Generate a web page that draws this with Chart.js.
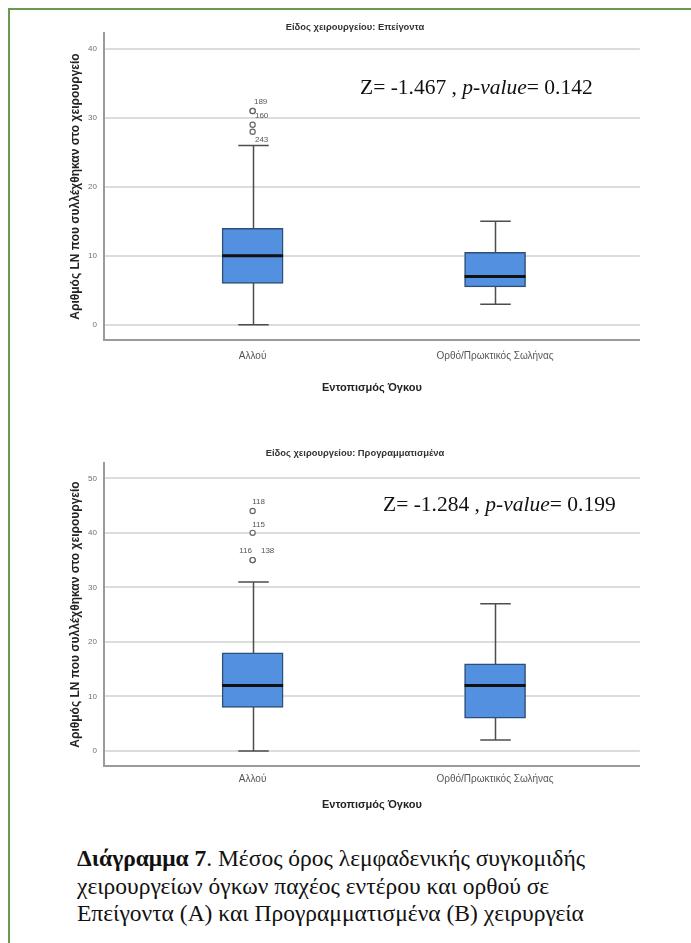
<!DOCTYPE html>
<html lang="el">
<head>
<meta charset="utf-8">
<title>Διάγραμμα 7</title>
<script src="https://cdn.jsdelivr.net/npm/chart.js@4.4.1/dist/chart.umd.min.js"></script>
<style>
    html, body { margin: 0; padding: 0; background: #fff; }
    body { width: 691px; height: 943px; overflow: hidden; position: relative; font-family: "Liberation Sans", Arial, sans-serif; }
    .frame { position: absolute; left: 8px; top: 8px; width: 740px; height: 980px; border: 2px solid #6b9a4c; box-sizing: border-box; }
    .chartBox { position: absolute; left: 65px; width: 580px; }
    #boxA { top: 10px; height: 400px; }
    #boxB { top: 436px; height: 380px; }
    .stat { position: absolute; font-family: "Liberation Serif", "Times New Roman", serif; font-size: 21.5px; color: #111; white-space: nowrap; }
    .caption { position: absolute; left: 77px; top: 845px; font-family: "Liberation Serif", "Times New Roman", serif; font-size: 23.5px; line-height: 27.5px; color: #111; white-space: nowrap; }
</style>
</head>
<body>
<div class="frame"></div>

<div class="chartBox" id="boxA"><canvas id="chartA"></canvas></div>
<div class="stat" style="left:360px; top:75px;">Z= -1.467 , <i>p-value</i>= 0.142</div>

<div class="chartBox" id="boxB"><canvas id="chartB"></canvas></div>
<div class="stat" style="left:383px; top:492px;">Z= -1.284 , <i>p-value</i>= 0.199</div>

<div class="caption">
    <b>Διάγραμμα 7</b>. Μέσος όρος λεμφαδενικής συγκομιδής<br>
    χειρουργείων όγκων παχέος εντέρου και ορθού σε<br>
    Επείγοντα (A) και Προγραμματισμένα (B) χειρυργεία
</div>

<script>
"use strict";

// --- dados ---
const categories = ["Αλλού", "Ορθό/Πρωκτικός Σωλήνας"];
const yTitle = "Αριθμός LN που συλλέχθηκαν στο χειρουργείο";
const xTitle = "Εντοπισμός Όγκου";

// A: Επείγοντα
const emergMin = [0, 3];
const emergQ1 = [6, 5.5];
const emergMedian = [10, 7];
const emergQ3 = [14, 10.5];
const emergMax = [26, 15];
const emergOutCat = [0, 0, 0, 0];
const emergOutValues = [31, 31, 29, 28];
const emergOutIds = ["189", "160", "", "243"];
const emergTicks = [0, 10, 20, 30, 40];

// B: Προγραμματισμένα
const electMin = [0, 2];
const electQ1 = [8, 6];
const electMedian = [12, 12];
const electQ3 = [18, 16];
const electMax = [31, 27];
const electOutCat = [0, 0, 0, 0];
const electOutValues = [44, 40, 35, 35];
const electOutIds = ["118", "115", "116", "138"];
const electTicks = [0, 10, 20, 30, 40, 50];

// posição dos rótulos dos outliers (px, relativo ao círculo)
const emergLabelOffsets = [[8, -9], [9, 5], [0, 0], [9, 8]];
const electLabelOffsets = [[6, -9], [6, -8], [-7, -9], [15, -9]];

const BOX_WIDTH = 61;

const boxWhiskerPlugin = {
    id: "boxWhisker",
    beforeDatasetsDraw(chart, args, opts) {
        const { ctx } = chart;
        const x = chart.scales.x;
        const y = chart.scales.y;
        ctx.save();
        ctx.strokeStyle = "#4d4d4d";
        ctx.lineWidth = 1.5;
        opts.min.forEach((mn, i) => {
            const cx = Math.round(x.getPixelForValue(i)) + 0.5;
            const capHalf = BOX_WIDTH / 4;
            const yMin = y.getPixelForValue(mn);
            const yMax = y.getPixelForValue(opts.max[i]);
            ctx.beginPath();
            ctx.moveTo(cx, yMin);
            ctx.lineTo(cx, yMax);
            ctx.moveTo(cx - capHalf, yMin);
            ctx.lineTo(cx + capHalf, yMin);
            ctx.moveTo(cx - capHalf, yMax);
            ctx.lineTo(cx + capHalf, yMax);
            ctx.stroke();
        });
        ctx.restore();
    },
    afterDatasetsDraw(chart, args, opts) {
        const { ctx } = chart;
        const x = chart.scales.x;
        const y = chart.scales.y;
        ctx.save();
        ctx.strokeStyle = "#111";
        ctx.lineWidth = 3;
        opts.median.forEach((md, i) => {
            const cx = x.getPixelForValue(i);
            const py = y.getPixelForValue(md);
            ctx.beginPath();
            ctx.moveTo(cx - BOX_WIDTH / 2, py);
            ctx.lineTo(cx + BOX_WIDTH / 2, py);
            ctx.stroke();
        });

        ctx.fillStyle = "#555";
        ctx.font = "8px 'Liberation Sans', Arial, sans-serif";
        ctx.textAlign = "center";
        ctx.textBaseline = "middle";
        opts.outValues.forEach((v, i) => {
            if (!opts.outIds[i]) return;
            const px = x.getPixelForValue(opts.outCat[i]) + opts.offsets[i][0];
            const py = y.getPixelForValue(v) + opts.offsets[i][1];
            ctx.fillText(opts.outIds[i], px, py);
        });
        ctx.restore();
    },
};

function criarBoxplot(canvasId, cfg) {
    const boxData = cfg.q1.map((q, i) => ({ x: i, y: [q, cfg.q3[i]] }));
    const outData = cfg.outValues.map((v, i) => ({ x: cfg.outCat[i], y: v }));

    return new Chart(document.getElementById(canvasId), {
        type: "bar",
        data: {
            datasets: [
                {
                    type: "scatter",
                    data: outData,
                    pointStyle: "circle",
                    pointRadius: 2.6,
                    pointBorderWidth: 1.2,
                    pointBackgroundColor: "#fff",
                    pointBorderColor: "#666",
                },
                {
                    data: boxData,
                    backgroundColor: "#5391e0",
                    borderColor: "#2d4f77",
                    borderWidth: 1.5,
                    borderSkipped: false,
                    barThickness: BOX_WIDTH,
                },
            ],
        },
        options: {
            responsive: true,
            maintainAspectRatio: false,
            animation: false,
            layout: { padding: 0 },
            plugins: {
                legend: { display: false },
                tooltip: { enabled: false },
                title: {
                    display: true,
                    text: cfg.title,
                    color: "#333",
                    font: { family: "'Liberation Sans', Arial, sans-serif", size: 9.4, weight: "bold", lineHeight: 1.28 },
                    padding: { top: 11, bottom: cfg.titleGap },
                },
                boxWhisker: {
                    min: cfg.min,
                    max: cfg.max,
                    median: cfg.median,
                    outCat: cfg.outCat,
                    outValues: cfg.outValues,
                    outIds: cfg.outIds,
                    offsets: cfg.offsets,
                },
            },
            scales: {
                x: {
                    type: "linear",
                    offset: false,
                    min: -0.613,
                    max: 1.597,
                    afterBuildTicks: (scale) => {
                        scale.ticks = categories.map((_, i) => ({ value: i }));
                    },
                    afterFit: (scale) => {
                        scale.height = cfg.xAxisHeight;
                    },
                    grid: { display: false, drawTicks: false },
                    border: { display: true, color: "#9a9a9a", width: 2 },
                    ticks: {
                        color: "#555",
                        padding: cfg.xTickPad,
                        maxRotation: 0,
                        font: { family: "'Liberation Sans', Arial, sans-serif", size: 10 },
                        callback: (value) => categories[value],
                    },
                    title: {
                        display: true,
                        text: xTitle,
                        color: "#222",
                        font: { family: "'Liberation Sans', Arial, sans-serif", size: 11, weight: "bold", lineHeight: 1.2 },
                        padding: { top: 0, bottom: cfg.xTitlePad },
                    },
                },
                y: {
                    min: cfg.yMin,
                    max: cfg.yMax,
                    afterBuildTicks: (scale) => {
                        scale.ticks = cfg.ticks.map((v) => ({ value: v }));
                    },
                    afterFit: (scale) => {
                        scale.width = 39;
                    },
                    grid: { color: "#dcdcdc", lineWidth: 2, drawTicks: false },
                    border: { display: true, color: "#9a9a9a", width: 2 },
                    ticks: {
                        color: "#6f6f6f",
                        padding: 7,
                        font: { family: "'Liberation Sans', Arial, sans-serif", size: 8 },
                    },
                    title: {
                        display: true,
                        text: yTitle,
                        color: "#222",
                        font: { family: "'Liberation Sans', Arial, sans-serif", size: 12, weight: "bold", lineHeight: 1.2 },
                        padding: { top: 3.8, bottom: 0 },
                    },
                },
            },
        },
        plugins: [boxWhiskerPlugin],
    });
}

criarBoxplot("chartA", {
    title: "Είδος χειρουργείου: Επείγοντα",
    titleGap: 0,
    xAxisHeight: 70,
    xTickPad: 10,
    xTitlePad: 15,
    yMin: -2.2,
    yMax: 42.3,
    ticks: emergTicks,
    min: emergMin,
    q1: emergQ1,
    median: emergMedian,
    q3: emergQ3,
    max: emergMax,
    outCat: emergOutCat,
    outValues: emergOutValues,
    outIds: emergOutIds,
    offsets: emergLabelOffsets,
});

criarBoxplot("chartB", {
    title: "Είδος χειρουργείου: Προγραμματισμένα",
    titleGap: 4,
    xAxisHeight: 50,
    xTickPad: 7,
    xTitlePad: 4,
    yMin: -2.75,
    yMax: 52.8,
    ticks: electTicks,
    min: electMin,
    q1: electQ1,
    median: electMedian,
    q3: electQ3,
    max: electMax,
    outCat: electOutCat,
    outValues: electOutValues,
    outIds: electOutIds,
    offsets: electLabelOffsets,
});
</script>
</body>
</html>
